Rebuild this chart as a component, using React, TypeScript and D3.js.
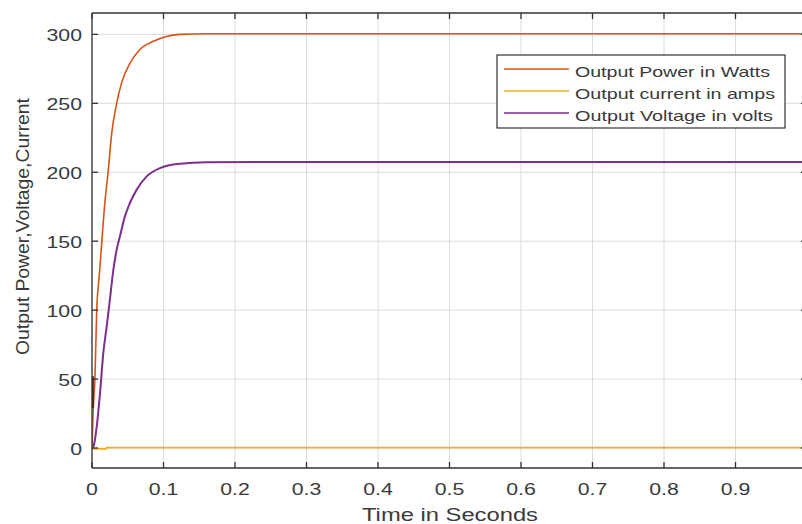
import React from "react";
import * as d3 from "d3";

const timePower = [0, 0.0015, 0.0042, 0.0066, 0.01, 0.0135, 0.018, 0.0225, 0.0275, 0.0345, 0.0415, 0.053, 0.067, 0.086, 0.104, 0.123, 0.16, 0.3, 0.5, 0.7, 0.9, 1.0];
const powerW = [0, 25, 52, 100, 124, 148, 178, 200, 228, 250, 265, 279, 289, 295, 298.5, 300, 300.5, 300.5, 300.5, 300.5, 300.5, 300.5];

const timeSpike = [0.0012, 0.0012];
const powerSpike = [29, 52];

const timeVoltage = [0, 0.002, 0.0066, 0.0112, 0.0158, 0.0205, 0.025, 0.0298, 0.0345, 0.039, 0.046, 0.053, 0.0625, 0.0765, 0.095, 0.123, 0.16, 0.3, 0.5, 0.7, 0.9, 1.0];
const voltageV = [0, 1, 15.5, 39.7, 68.8, 88, 107.5, 129, 143.8, 153.4, 168, 177.7, 187.4, 197, 203, 206.2, 207.3, 207.5, 207.5, 207.5, 207.5, 207.5];

const timeCurrent = [0, 0.02, 0.0205, 1.0];
const currentA = [-0.6, -0.6, 0.3, 0.3];

const xTicks = [0, 0.1, 0.2, 0.3, 0.4, 0.5, 0.6, 0.7, 0.8, 0.9, 1.0];
const xTickLabels = ["0", "0.1", "0.2", "0.3", "0.4", "0.5", "0.6", "0.7", "0.8", "0.9", ""];
const yTicks = [0, 50, 100, 150, 200, 250, 300];

const legendLabels = ["Output Power in Watts", "Output current in amps", "Output Voltage in volts"];
const colors = ["#D95319", "#EDB120", "#7E2F8E"];

const W = 802, H = 524;
const left = 92, top = 13, bottom = 468, right = 807;
const FONT = "'Liberation Sans', Arial, sans-serif";

const charW: Record<string, number> = { "0": 0.556, "1": 0.556, "2": 0.556, "3": 0.556, "4": 0.556, "5": 0.556, "6": 0.556, "7": 0.556, "8": 0.556, "9": 0.556, ".": 0.278 };
const numWidth = (s: string, fs: number) => s.split("").reduce((a, c) => a + (charW[c] ?? 0.556), 0) * fs;

export default function App() {
  const x = d3.scaleLinear().domain([0, 1]).range([left, right]);
  const y = d3.scaleLinear().domain([-14.5, 315.5]).range([bottom, top]);

  const mk = (ts: number[], vs: number[]) =>
    d3.line<number>().x((_, i) => x(ts[i])).y((v) => y(v)).curve(d3.curveMonotoneX)(vs) || "";
  const mkLin = (ts: number[], vs: number[]) =>
    d3.line<number>().x((_, i) => x(ts[i])).y((v) => y(v))(vs) || "";

  const axisColor = "#333333";
  const textColor = "#3a3a3a";
  const tickFs = 16;
  const stretch = 1.33;

  return (
    <svg width={W} height={H} style={{ position: "absolute", left: 0, top: 0, background: "#fff" }} fontFamily={FONT}>
      <defs>
        <clipPath id="plotclip">
          <rect x={left} y={top} width={right - left} height={bottom - top} />
        </clipPath>
      </defs>
      <rect x={0} y={0} width={W} height={H} fill="#fff" />
      {/* grid */}
      <g stroke="#dcdcdc" strokeWidth={1}>
        {xTicks.map((t) => (
          <line key={"gx" + t} x1={x(t)} x2={x(t)} y1={top} y2={bottom} />
        ))}
        {yTicks.map((t) => (
          <line key={"gy" + t} x1={left} x2={right} y1={y(t)} y2={y(t)} />
        ))}
      </g>
      {/* series */}
      <g clipPath="url(#plotclip)" fill="none">
        <path d={mkLin(timeCurrent, currentA)} stroke={colors[1]} strokeWidth={1.6} />
        <path d={mk(timeVoltage, voltageV)} stroke={colors[2]} strokeWidth={2} />
        <path d={mk(timePower, powerW)} stroke={colors[0]} strokeWidth={1.6} />
        <path d={mkLin(timeSpike, powerSpike)} stroke="#5a1a0a" strokeWidth={2} />
      </g>
      {/* axes box */}
      <g stroke={axisColor} strokeWidth={1.3} fill="none">
        <line x1={left} x2={right} y1={top} y2={top} />
        <line x1={left} x2={right} y1={bottom} y2={bottom} />
        <line x1={left} x2={left} y1={top} y2={bottom} />
        <line x1={right} x2={right} y1={top} y2={bottom} />
        {xTicks.map((t) => (
          <g key={"tx" + t}>
            <line x1={x(t)} x2={x(t)} y1={bottom} y2={bottom - 6} />
            <line x1={x(t)} x2={x(t)} y1={top} y2={top + 6} />
          </g>
        ))}
        {yTicks.map((t) => (
          <g key={"ty" + t}>
            <line x1={left} x2={left + 6} y1={y(t)} y2={y(t)} />
            <line x1={right} x2={right - 6} y1={y(t)} y2={y(t)} />
          </g>
        ))}
      </g>
      {/* tick labels */}
      <g fill={textColor} fontSize={tickFs}>
        {xTicks.map((t, i) => {
          const s = xTickLabels[i];
          if (!s) return null;
          return (
            <text key={"lx" + t} x={x(t)} y={495} textAnchor="middle" textLength={numWidth(s, tickFs) * stretch} lengthAdjust="spacingAndGlyphs">
              {s}
            </text>
          );
        })}
        {yTicks.map((t) => {
          const s = String(t);
          return (
            <text key={"ly" + t} x={82} y={y(t) + 7} textAnchor="end" textLength={numWidth(s, tickFs) * stretch} lengthAdjust="spacingAndGlyphs">
              {s}
            </text>
          );
        })}
      </g>
      {/* axis titles */}
      <text x={450} y={521} textAnchor="middle" fontSize={18} fill={textColor} textLength={176} lengthAdjust="spacingAndGlyphs">
        Time in Seconds
      </text>
      <text transform="translate(29,226.5) rotate(-90)" textAnchor="middle" fontSize={18} fill={textColor} textLength={257} lengthAdjust="spacingAndGlyphs">
        Output Power,Voltage,Current
      </text>
      {/* legend */}
      <g>
        <rect x={497} y={55} width={288} height={73} fill="#fff" stroke="#333" strokeWidth={1.2} />
        {legendLabels.map((lab, i) => (
          <g key={lab}>
            <line x1={504} x2={569} y1={69 + i * 22} y2={69 + i * 22} stroke={colors[i]} strokeWidth={1.6} />
            <text x={575} y={76.5 + i * 22} fontSize={15} fill={textColor} textLength={[195, 200, 198][i]} lengthAdjust="spacingAndGlyphs">
              {lab}
            </text>
          </g>
        ))}
      </g>
    </svg>
  );
}
